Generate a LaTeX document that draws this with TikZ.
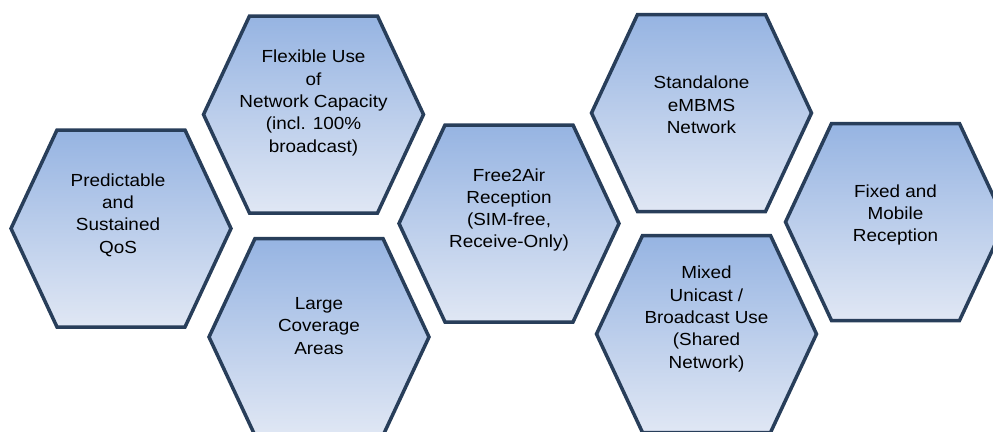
\documentclass[tikz,border=0pt]{standalone}
\usepackage{fontspec}
\setmainfont{Liberation Sans}
\definecolor{hexline}{RGB}{40,62,90}
\definecolor{hextop}{RGB}{150,180,226}
\definecolor{hexbot}{RGB}{224,231,244}
\tikzset{
  hexcell/.style={draw=hexline, line width=3.5pt, top color=hextop, bottom color=hexbot},
  hexlabel/.style={align=center, font=\fontsize{17.5}{22.3}\selectfont, text=black, inner sep=0pt, xscale=1.08, transform shape}
}
\newcommand{\hexshape}[3]{%
  \draw[hexcell] ({#2-110},#3) coordinate (#1-w) -- ({#2-64},{#3-98.5}) coordinate (#1-nw)
    -- ({#2+64},{#3-98.5}) coordinate (#1-ne) -- ({#2+110},#3) coordinate (#1-e)
    -- ({#2+64},{#3+98.5}) coordinate (#1-se) -- ({#2-64},{#3+98.5}) coordinate (#1-sw) -- cycle;}
\begin{document}
\begin{tikzpicture}[x=1pt,y=-1pt]
\useasboundingbox (0,0) rectangle (993,431);
\clip (0,0) rectangle (993,431);
\hexshape{h1}{121}{228.5}
\hexshape{h2}{313.5}{114.5}
\hexshape{h3}{319}{337}
\hexshape{h4}{509}{223.5}
\hexshape{h5}{701.5}{113}
\hexshape{h6}{706.5}{334}
\hexshape{h7}{895.5}{222}
\node[hexlabel] (t1) at (118,215) {Predictable\\and\\Sustained\\QoS};
\node[hexlabel] (t2) at (313.5,103) {Flexible Use\\of\\Network Capacity\\(incl. 100\%\\broadcast)};
\node[hexlabel] (t3) at (319,326) {Large\\Coverage\\Areas};
\node[hexlabel] (t4) at (509,210) {Free2Air\\Reception\\(SIM-free,\\Receive-Only)};
\node[hexlabel] (t5) at (701.5,105) {Standalone\\eMBMS\\Network};
\node[hexlabel] (t6) at (706.5,319) {Mixed\\Unicast /\\Broadcast Use\\(Shared\\Network)};
\node[hexlabel] (t7) at (895.5,215) {Fixed and\\Mobile\\Reception};
\end{tikzpicture}
\end{document}
